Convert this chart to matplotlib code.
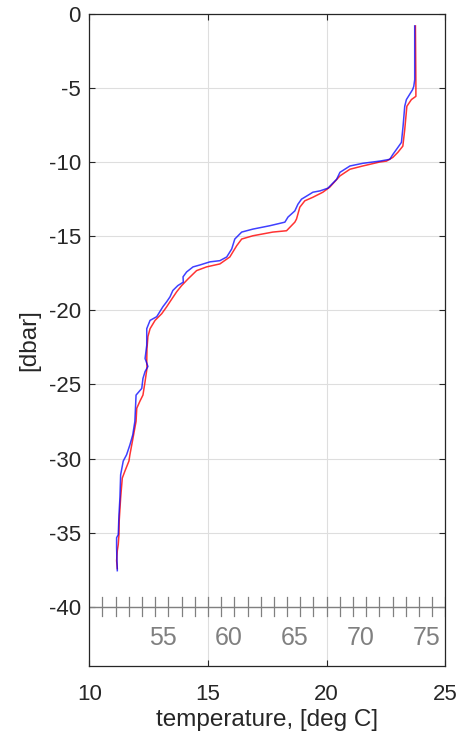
import matplotlib
matplotlib.use("Agg")
import matplotlib.pyplot as plt
import numpy as np

plt.rcParams['font.family'] = ['Liberation Sans', 'DejaVu Sans']

# Blue profile (temperature degC, pressure dbar)
blue_T = [23.71, 23.71, 23.67, 23.62, 23.36, 23.29, 23.22, 23.15, 23.00, 22.79, 22.66, 22.24,
          21.52, 20.98, 20.56, 20.42, 20.05, 19.72, 19.42, 19.29, 18.94, 18.79, 18.66, 18.37,
          18.24, 17.61, 16.89, 16.42, 16.13, 16.00, 15.79, 15.50, 15.08, 14.66, 14.37, 14.10,
          13.95, 13.96, 13.73, 13.52, 13.40, 13.26, 13.10, 12.84, 12.56, 12.42, 12.42, 12.35,
          12.47, 12.35, 12.26, 12.21, 11.97, 11.92, 11.83, 11.71, 11.57, 11.43, 11.32, 11.29,
          11.25, 11.22, 11.15, 11.15, 11.18]
blue_P = [-0.81, -4.44, -4.89, -5.11, -5.78, -6.23, -7.57, -8.67, -9.01, -9.48, -9.81, -9.93,
          -10.08, -10.26, -10.69, -11.16, -11.76, -11.94, -12.03, -12.16, -12.50, -12.84, -13.29, -13.71,
          -14.05, -14.29, -14.52, -14.72, -15.19, -15.86, -16.40, -16.65, -16.73, -16.94, -17.07, -17.41,
          -17.74, -18.10, -18.33, -18.66, -19.09, -19.42, -19.76, -20.43, -20.68, -21.24, -22.36, -23.25,
          -23.79, -24.13, -24.60, -25.27, -25.72, -27.49, -28.41, -29.08, -29.75, -30.17, -31.10, -32.66,
          -33.78, -35.13, -35.35, -36.02, -37.57]

# Red profile
red_T = [23.74, 23.76, 23.76, 23.57, 23.38, 23.29, 23.21, 23.00, 22.79, 22.52, 22.24, 21.52,
         20.98, 20.56, 20.13, 19.84, 19.42, 19.08, 18.87, 18.73, 18.66, 18.31, 17.73, 16.89,
         16.42, 16.21, 15.92, 15.50, 14.94, 14.52, 14.16, 13.89, 13.68, 13.40, 13.26, 13.05,
         12.77, 12.56, 12.47, 12.43, 12.42, 12.43, 12.35, 12.26, 12.13, 12.00, 11.97, 11.84,
         11.71, 11.67, 11.50, 11.39, 11.32, 11.26, 11.25, 11.22, 11.18, 11.15, 11.18]
red_P = [-0.81, -4.84, -5.56, -5.78, -6.23, -7.80, -8.92, -9.34, -9.68, -9.93, -9.99, -10.26,
         -10.48, -10.93, -11.69, -12.03, -12.37, -12.61, -13.04, -13.84, -14.05, -14.63, -14.72, -14.97,
         -15.19, -15.64, -16.40, -16.87, -17.07, -17.32, -17.88, -18.33, -18.75, -19.42, -19.76, -20.23,
         -20.68, -21.24, -21.77, -22.58, -23.45, -23.92, -24.80, -25.72, -26.14, -26.61, -27.49, -28.63,
         -29.75, -30.17, -30.85, -31.32, -32.66, -34.21, -35.13, -35.80, -36.22, -36.90, -37.43]

x_ticks = [10, 15, 20, 25]
y_ticks = [0, -5, -10, -15, -20, -25, -30, -35, -40]
f_ticks = list(range(51, 78))
f_labels = [55, 60, 65, 70, 75]
f_axis_level = -40

axc = '#262626'
fig = plt.figure(figsize=(4.62, 7.38), dpi=100)
ax = fig.add_axes([0.1933, 0.0976, 0.7706, 0.8835])

ax.plot(red_T, red_P, color=(1, 0, 0, 0.8), lw=1.1)
ax.plot(blue_T, blue_P, color=(0, 0, 1, 0.75), lw=1.1)

ax.set_xlim(10, 25)
ax.set_ylim(-44, 0)
ax.set_xticks(x_ticks)
ax.set_yticks(y_ticks)
ax.set_yticklabels([str(v) for v in y_ticks])
ax.grid(True, color='#dedede', lw=0.8)
ax.set_axisbelow(True)
ax.tick_params(direction='in', length=4, width=0.8, color=axc, labelcolor=axc,
               labelsize=16, top=True, right=True)
ax.tick_params(axis='x', pad=13)
ax.tick_params(axis='y', pad=6)
for s in ax.spines.values():
    s.set_color(axc)
    s.set_linewidth(0.9)
ax.set_xlabel('temperature, [deg C]', fontsize=17.5, color=axc, labelpad=3)
ax.set_ylabel('[dbar]', fontsize=17.5, color=axc, labelpad=6)

# Fahrenheit scale
gray = '#808080'
ax.axhline(f_axis_level, color=gray, lw=1.0)
for f in f_ticks:
    c = (f - 32) * 5 / 9
    ax.plot([c, c], [f_axis_level + 0.65, f_axis_level - 0.65], color=gray, lw=0.9)
for f in f_labels:
    c = (f + 0.6 - 32) * 5 / 9
    ax.text(c, f_axis_level - 2.1, str(f), color=gray, fontsize=18, ha='center', va='center')

fig.savefig('out.png', dpi=100)
